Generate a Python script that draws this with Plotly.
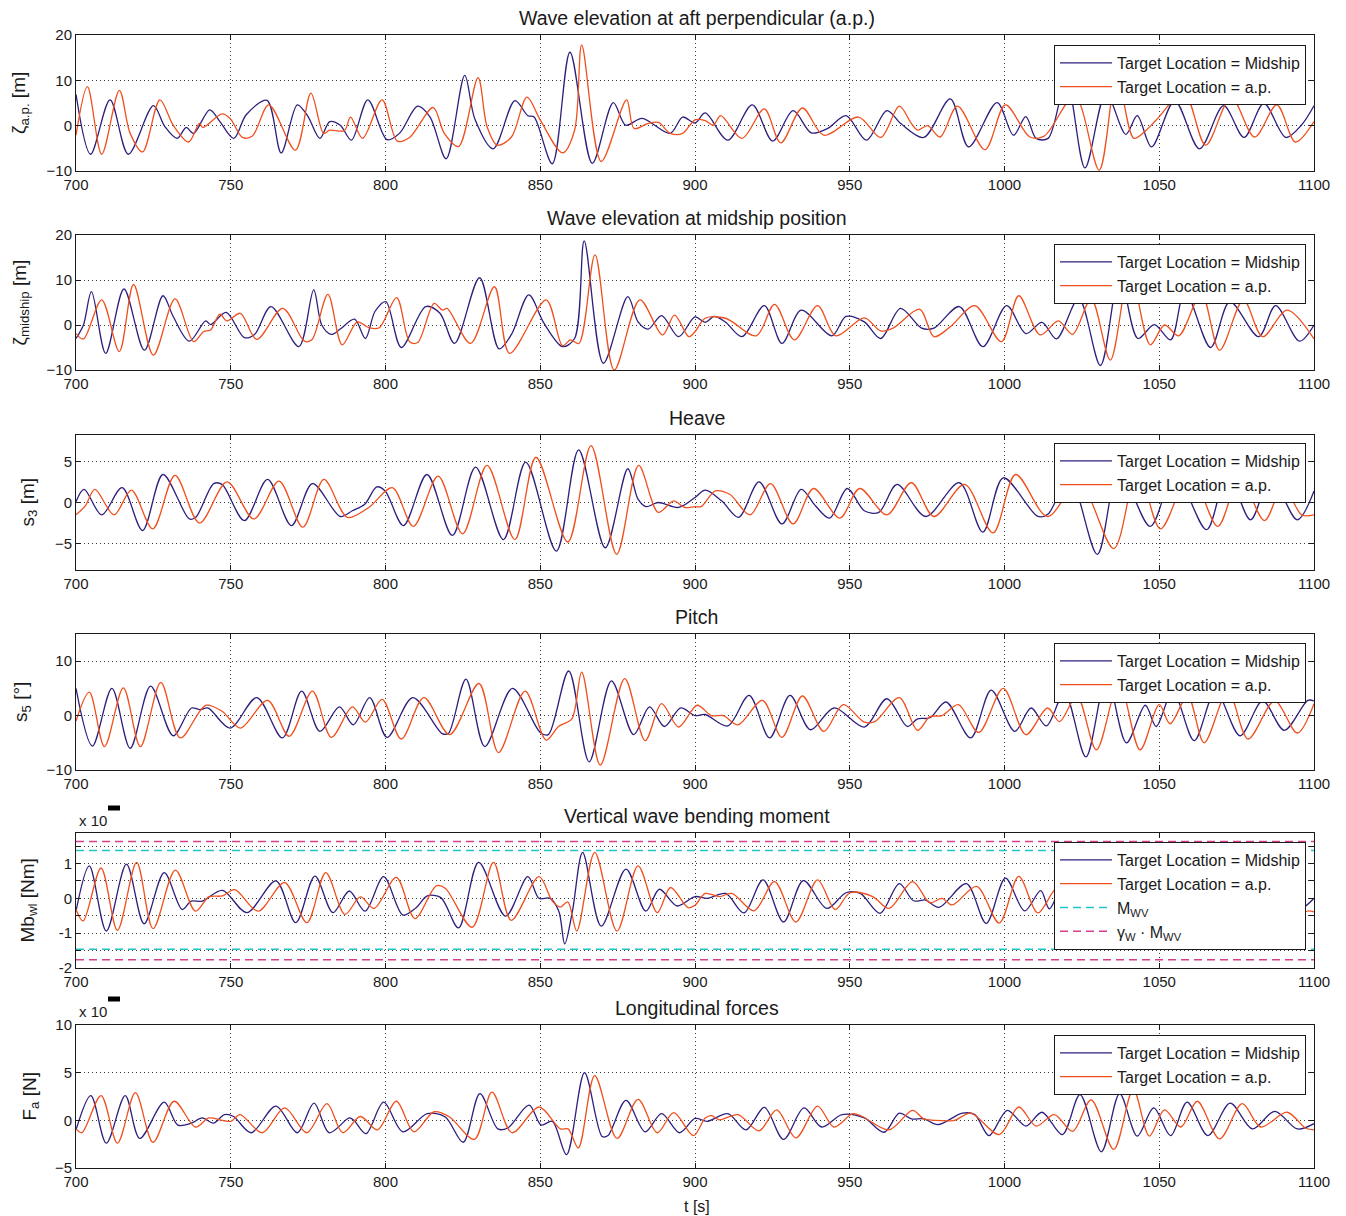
import plotly.graph_objects as go

# ---------------- DATA ((time [s], value) pairs at turning points) ----------------
T_RANGE = [700, 1100]
X_TICKS = [700, 750, 800, 850, 900, 950, 1000, 1050, 1100]

ZAP_MIDSHIP = [(700, 6.9), (704.7, -6.3), (711, 5.7), (716.9, -6.3), (725, 4.4), (728.7, -0.2), (732.7, -2.8), (735.6, -0.4), (738, -1.7), (743.2, 3.5), (746.5, 0.9), (751, -2.8), (755, 2.4), (761.7, 5.6), (766.3, -6.0), (771.5, 4.6), (774.8, 2.2), (778.8, -2.8), (782, 0.9), (785.4, 0.1), (789, -3.2), (794.3, 5.7), (800.5, -3.1), (804.5, -1.7), (810.4, 4.3), (814.4, 1.9), (819.6, -7.3), (825.6, 11.1), (828.9, 1.4), (834.8, -5.1), (841.8, 5.5), (846, 2.2), (848, 1.9), (853.9, -8.4), (859.6, 16.2), (866.8, -8.3), (873.6, 5.1), (877.6, 0.1), (882.9, 1.6), (892, -1.7), (896, 1.9), (900, 0.6), (903.3, 2.8), (910.6, -3.2), (918.5, 4.6), (925.1, -3.4), (931.7, 3.3), (937.6, -1.6), (942.9, -0.6), (948.8, 2.2), (955.4, -3.2), (962, 3.3), (966.6, 0.4), (973.9, -2.6), (982.5, 5.9), (988.4, -4.7), (997.6, 5.1), (1002.9, -2.1), (1006.9, 2.0), (1010.2, -2.8), (1014.1, -2.8), (1020, 10.0), (1026, -9.3), (1032.8, 7.2), (1039.2, -1.9), (1042.9, 2.2), (1047.5, -4.7), (1055, 5.5), (1063, -5.1), (1070.8, 4.4), (1077.4, -2.6), (1083.8, 4.9), (1090.9, -2.6), (1095.9, 0.1), (1100, 4.4)]
ZAP_AP = [(700, -2.1), (703.7, 8.6), (708.3, -6.3), (714, 7.8), (717.5, -1.7), (721.5, -5.8), (727.1, 5.7), (731.4, 0.1), (736.4, -3.6), (739.9, 0.5), (741, -0.4), (747.2, 2.6), (749.8, 1.6), (753.8, -2.6), (757, -2.3), (762.3, 4.6), (770.9, -5.4), (775.9, 7.2), (780, -1.7), (782, -1.0), (786.7, -1.1), (788.7, 1.9), (792.6, -2.8), (798.9, 5.7), (803.8, -3.4), (807.8, -2.6), (815.4, 4.0), (819, -1.7), (823.6, -4.6), (829.9, 10.6), (832.8, -0.2), (836.1, -4.3), (840.7, -2.5), (845.7, 6.3), (849.9, 1.4), (857.2, -6.0), (861.1, -1.0), (863.4, 17.8), (869.7, -7.9), (877.9, 5.7), (880.3, -0.6), (884.9, 0.5), (888.2, 0.7), (892, -1.7), (896, -1.7), (900, 1.3), (903.3, 1.1), (905.9, 0.1), (908.3, 2.2), (915.2, -2.8), (922.4, 3.7), (927.7, -3.8), (934.7, 3.9), (941.6, -2.1), (952.8, 1.9), (960, -2.6), (966, 4.3), (969.9, 0.5), (971.9, -1.0), (975.2, 0.0), (979.2, -2.5), (984.8, 4.3), (993.7, -5.3), (1000.3, 4.6), (1008.2, -2.5), (1012.8, -2.3), (1022.7, 6.5), (1030.6, -9.8), (1036.3, 11.0), (1041.8, -2.8), (1045.8, -1.0), (1049.1, 1.3), (1058, 7.2), (1065, -4.3), (1073.2, 6.3), (1080.8, -2.5), (1088, 4.6), (1094, -3.6), (1100, 0.9)]

ZMID_MIDSHIP = [(700, -3.0), (702.4, 0.0), (705, 7.4), (709.6, -6.3), (715.5, 8.0), (722.1, -5.6), (728.1, 6.5), (731.4, 1.9), (736.6, -3.6), (741.9, 0.9), (743.5, 0.1), (748.5, 2.8), (754.4, -2.8), (757.7, -2.1), (763, 4.1), (772, -4.8), (776.8, 7.8), (779.4, 0.0), (782.5, -2.1), (785.4, -0.9), (790, 1.3), (793.5, -3.0), (796.6, 3.0), (800.1, 5.2), (805.1, -5.0), (813, 4.1), (817.6, 2.6), (822.3, -4.1), (830.4, 10.5), (836.7, -5.3), (840.7, -2.1), (846.3, 6.7), (851.2, 0.4), (857.2, -4.8), (861.1, -3.0), (864.2, 18.7), (870.4, -8.5), (878.3, 6.3), (881.6, 0.7), (884.9, -0.9), (889.2, 2.1), (894.7, -2.6), (900, 1.8), (903.3, 0.6), (906.2, 1.9), (909.9, 0.6), (915.2, -2.6), (922.4, 4.3), (928.1, -4.1), (934.3, 3.3), (944.2, -2.4), (948.8, 1.9), (954.7, 0.7), (960, -3.0), (966.4, 3.7), (973.2, -0.7), (977.2, -0.7), (985.4, 4.1), (993, -4.8), (1000.7, 4.3), (1006.9, -1.9), (1012.1, 0.6), (1016.8, -3.1), (1024, 5.9), (1031, -9.0), (1037.2, 11.0), (1043.1, -3.0), (1048.4, 0.1), (1053.7, -3.3), (1058.3, 7.6), (1066.6, -5.0), (1072.8, 5.2), (1082.1, -2.6), (1087.6, 4.3), (1095.3, -3.6), (1100, 0.0)]
ZMID_AP = [(700, -1.9), (702.4, -3.1), (708.3, 5.6), (714, -5.9), (718.6, 9.0), (725, -6.7), (732, 5.8), (738, -3.7), (741.2, -1.5), (743.5, -1.1), (746.5, 2.4), (748.8, 0.9), (753.1, 2.6), (758.4, -3.2), (766.8, 3.7), (773.8, -3.6), (776.2, -3.3), (781.4, 6.8), (786, -4.4), (790.9, 0.7), (794.6, -0.6), (798, -0.6), (803.6, 6.1), (807.8, -3.7), (810.4, -3.9), (815.7, 4.8), (818.4, 3.3), (819.9, 3.7), (827.5, -4.1), (835.2, 8.5), (840.1, -6.3), (851.9, 5.6), (857.2, -4.6), (859.8, -3.3), (862.5, -4.1), (867.7, 15.6), (873.9, -10.0), (882.2, 5.6), (889.5, -2.2), (893.4, 2.2), (898, -2.6), (900, -1.5), (903.3, 1.5), (909.9, 1.5), (919.8, -2.4), (925.7, 4.6), (932.1, -3.3), (939.6, 4.3), (945.5, -2.4), (954.7, 1.6), (960, -1.3), (964, -0.7), (972.6, 3.5), (977.2, -2.6), (982.5, -0.4), (990.4, 4.3), (999, -3.7), (1004.6, 6.5), (1011.5, -2.2), (1017.4, 0.9), (1022, -2.1), (1028, 5.8), (1034.2, -7.8), (1040.5, 12.0), (1047.1, -4.4), (1051.7, 0.0), (1056.3, -2.4), (1063.6, 7.0), (1069.5, -5.6), (1077.2, 5.6), (1083.4, -2.6), (1091.3, 3.3), (1100, -3.1)]

HEAVE_MIDSHIP = [(700, 0.1), (702.6, 1.6), (708.3, -1.5), (714.9, 1.8), (721.5, -3.4), (728.1, 3.4), (736.6, -2.0), (738.7, -1.8), (744.5, 2.3), (747.2, 2.2), (754.4, -2.2), (761.9, 2.8), (769.6, -2.8), (776.4, 2.3), (785.4, -1.7), (789.3, -1.0), (793.3, -0.2), (797.2, 1.9), (799.9, 1.4), (805.8, -2.8), (813.4, 3.4), (821.6, -4.0), (829.1, 4.3), (838.1, -4.5), (845.3, 4.9), (855.2, -5.9), (862.4, 6.4), (871, -5.5), (878.3, 4.1), (881.6, 0.4), (884.2, -0.5), (888.1, 0.0), (894.7, -0.6), (900, 0.6), (903.3, 1.5), (908.6, 0.2), (914.1, -1.8), (920.7, 2.5), (928.1, -2.6), (934.3, 1.6), (938.9, -0.4), (943.5, -1.9), (949.2, 1.7), (954.7, -1.0), (959.4, -1.2), (965.3, 2.2), (974.5, -1.7), (985.4, 2.4), (993, -3.6), (999.6, 3.0), (1010.8, -1.7), (1014.1, -1.4), (1021, 3.0), (1030, -6.3), (1037, 4.0), (1047.1, -2.9), (1055, 3.5), (1065.3, -3.3), (1072, 3.5), (1079.5, -2.1), (1086, 3.0), (1094.6, -2.1), (1100, 1.4)]
HEAVE_AP = [(700, -1.5), (703, -0.4), (706.1, 1.6), (712.3, -1.5), (717.9, 1.5), (724.8, -3.2), (732, 3.3), (739.9, -2.5), (748.8, 2.5), (757.5, -2.0), (765.6, 2.6), (773.3, -3.0), (780.1, 2.8), (787.7, -1.8), (794.6, -0.6), (802.2, 1.8), (809, -2.9), (817, 3.2), (824.9, -3.8), (832.8, 4.5), (841.8, -4.5), (848.6, 5.5), (858.9, -4.8), (866.4, 6.9), (874.7, -6.3), (881.8, 4.5), (888.1, -1.2), (893.1, 0.2), (896.6, -0.6), (900, -0.5), (902, -0.5), (906.6, 1.4), (911.2, 1.0), (917.8, -1.5), (924.4, 2.3), (931.7, -2.6), (938.3, 1.7), (946.8, -1.9), (953.2, 1.7), (962, -1.5), (969.9, 2.4), (977.2, -1.7), (987.1, 2.2), (996.3, -3.7), (1003.6, 3.4), (1013.9, -1.7), (1024, 2.5), (1035.3, -5.6), (1043, 4.0), (1050.4, -3.2), (1060, 3.5), (1068.9, -2.9), (1076, 3.0), (1084, -2.2), (1090, 2.0), (1096, -1.5), (1100, -1.5)]

PITCH_MIDSHIP = [(700, 5.0), (705.3, -5.6), (711.6, 5.0), (717.5, -6.0), (724.1, 5.4), (731.4, -3.7), (737.3, 1.4), (740, 1.1), (742.6, 1.4), (749.8, -2.3), (758.4, 3.3), (766.7, -4.1), (772.9, 4.5), (778.8, -2.9), (785.1, 1.6), (789.6, -1.7), (794.9, 3.3), (800.5, -4.0), (808.8, 3.3), (818.3, -3.3), (820.3, -3.3), (826, 6.7), (832.1, -5.7), (841, 5.0), (850, -3.1), (852.6, -3.5), (859.2, 8.2), (865.8, -8.5), (873, 6.4), (880.2, -3.5), (885.3, 1.6), (890.1, -2.0), (895.4, 1.4), (900, 0.0), (903.3, 0.2), (910.6, -1.9), (917.5, 3.7), (924.1, -4.1), (930.7, 3.7), (937.3, -2.6), (944.9, 1.4), (954.7, -2.1), (962, 3.1), (968.6, -2.0), (971.9, -0.6), (975.9, -0.4), (981.1, 2.5), (989.1, -4.1), (995.7, 4.7), (1003.3, -2.9), (1008.6, 1.4), (1013.5, -1.9), (1019.4, 4.2), (1026.3, -7.6), (1033, 7.0), (1039.4, -5.0), (1045.5, 1.9), (1049, -2.0), (1054.4, 4.5), (1061.3, -4.6), (1068.2, 4.5), (1076.1, -3.7), (1083.4, 2.7), (1090.4, -2.7), (1098, 2.8), (1100, 2.7)]
PITCH_AP = [(700, -1.0), (704.3, 4.3), (709.2, -5.7), (715.3, 5.1), (720.8, -5.7), (727.4, 6.1), (733.7, -4.1), (741.9, 1.9), (747.2, 0.8), (753.1, -2.3), (761.9, 2.8), (768.9, -3.8), (776.4, 4.5), (782.5, -4.0), (789.3, 1.6), (793.5, -1.2), (798.9, 3.0), (805.1, -4.3), (812.4, 3.3), (820.7, -3.5), (830.2, 5.9), (836.5, -6.8), (845.1, 4.5), (851.9, -4.5), (855.9, -2.0), (860.2, -0.6), (863.4, 8.0), (869.4, -9.1), (877.3, 6.8), (883.9, -4.6), (889.2, 2.2), (894.7, -2.1), (900.7, 1.9), (905.3, 0.0), (909.2, 0.0), (913.9, -1.7), (921.8, 2.8), (928.1, -4.0), (934.7, 3.6), (941.6, -2.9), (947.9, 2.0), (954.7, -1.2), (958.1, -1.1), (966, 3.3), (971.9, -2.7), (975.9, -0.2), (979.8, 0.0), (985.1, 2.0), (991.7, -3.1), (999.6, 5.0), (1006.9, -3.5), (1013.9, 1.4), (1017.8, -1.1), (1023.4, 3.6), (1029.7, -6.3), (1037, 6.0), (1043.8, -6.3), (1050, 2.0), (1053.5, -1.5), (1059.2, 3.6), (1064.5, -5.0), (1072.2, 4.5), (1078.7, -4.3), (1087.3, 2.7), (1094.6, -3.2), (1100, 2.2)]

MB_MIDSHIP = [(700, -0.37), (704.3, 0.93), (709.8, -0.94), (716.3, 0.98), (722, -0.73), (728.5, 0.74), (734.3, -0.32), (737.2, -0.08), (740.8, -0.08), (747.3, 0.23), (755.2, -0.41), (764.6, 0.5), (771, -0.7), (777.2, 0.64), (783, -0.41), (788.3, 0.21), (793.4, -0.37), (799.4, 0.62), (805.6, -0.48), (809.9, -0.27), (813.5, 0.07), (817.9, 0.02), (823.6, -0.85), (830.1, 1.03), (838.8, -0.51), (846, 0.62), (849.6, 0.0), (853.2, 0.0), (856, -0.37), (857.9, -1.31), (860.4, -0.37), (863.7, 1.32), (869.7, -0.8), (877.7, 0.84), (884.1, -0.37), (888.5, 0.26), (894.2, -0.22), (900, 0.05), (904, 0.0), (909.9, 0.14), (915.8, -0.42), (922, 0.53), (928.6, -0.68), (935, 0.51), (942.6, -0.29), (948.8, 0.16), (953.4, 0.14), (959.8, -0.43), (966, 0.42), (970.6, -0.07), (974.5, -0.05), (978.8, -0.26), (987.7, 0.42), (994.1, -0.72), (1000.3, 0.58), (1006.5, -0.36), (1011.7, 0.22), (1014.5, -0.3), (1020, 0.6), (1026, -0.9), (1033, 0.9), (1039, -0.6), (1043, 0.2), (1048, -0.3), (1054, 0.6), (1061, -0.6), (1068, 0.6), (1076, -0.5), (1083, 0.4), (1090, -0.4), (1096, -0.3), (1100, 0.0)]
MB_AP = [(700, -0.32), (702.3, -0.65), (708.1, 0.87), (713.4, -0.92), (719.6, 1.03), (724.9, -0.87), (732.1, 0.81), (738.6, -0.37), (742.9, 0.04), (747.3, 0.07), (751.3, 0.25), (758.8, -0.37), (767.4, 0.45), (774.6, -0.7), (780.7, 0.74), (786.9, -0.46), (791.9, 0.04), (796.3, -0.29), (803.5, 0.6), (809.5, -0.58), (816.4, 0.36), (819.3, 0.29), (828, -0.83), (834.9, 1.03), (840.6, -0.63), (849.6, 0.62), (853.9, -0.08), (856.5, -0.25), (858.9, -0.1), (861.8, -0.94), (867.6, 1.32), (874.8, -0.94), (881.6, 0.93), (887.8, -0.41), (892.1, 0.31), (897.8, -0.27), (900, -0.2), (903.3, 0.14), (907.9, 0.05), (911.9, 0.14), (919.1, -0.36), (925.7, 0.48), (932.6, -0.68), (939.6, 0.53), (945.3, -0.32), (950.1, 0.16), (957.4, 0.05), (962.7, -0.29), (970.3, 0.48), (975.9, -0.13), (979.8, 0.0), (983.1, -0.19), (991, 0.34), (998.3, -0.71), (1004.6, 0.63), (1010.8, -0.42), (1017, 0.3), (1021, -0.2), (1025, 0.5), (1031, -0.9), (1037, 1.0), (1043, -0.8), (1048, 0.2), (1051, -0.3), (1058, 0.6), (1065, -0.6), (1072, 0.6), (1079, -0.5), (1088, 0.4), (1094, -0.45), (1098.3, -0.36), (1100, -0.39)]
MWV_LIMITS = [1.37, -1.46]          # M_WV (hogging, sagging)
GAMMA_MWV_LIMITS = [1.63, -1.76]    # gamma_W * M_WV

FA_MIDSHIP = [(700, -1.0), (704.8, 2.6), (709.8, -2.4), (715.9, 2.6), (720.6, -1.9), (728.5, 1.9), (732.9, -0.5), (737.2, -0.3), (740.8, 0.25), (744.4, -0.3), (748, 0.6), (750.9, 0.4), (756.6, -1.3), (764.6, 1.5), (771.5, -1.3), (776.9, 1.8), (781.8, -1.3), (788.3, 0.25), (789.8, 0.0), (793.7, -1.4), (799.4, 1.9), (805.6, -1.2), (813.5, 0.7), (819.3, 0.35), (825.1, -2.3), (830.5, 2.8), (836.3, -0.9), (839.5, -0.8), (846.4, 1.6), (850.3, -0.5), (853.9, -0.1), (858.5, -3.6), (864.3, 5.0), (870, -1.7), (871.9, -1.6), (877.7, 2.1), (883.9, -1.2), (889.2, 0.7), (895, -1.3), (900, 0.2), (904, -0.1), (910.6, 0.7), (916.5, -1.0), (922.4, 1.35), (928.6, -2.0), (935.2, 1.3), (940.9, -0.7), (947.5, 0.6), (954.7, 0.25), (961.1, -1.25), (966, 0.75), (969.9, 0.15), (973.9, 0.15), (978.5, -0.45), (986.4, 0.75), (990.4, 0.6), (995, -1.6), (1000.9, 1.05), (1006.9, -0.6), (1012.1, 0.85), (1018.7, -1.5), (1024.4, 2.7), (1031.3, -3.3), (1037.2, 2.8), (1042.9, -1.65), (1048.2, 1.3), (1053.7, -1.6), (1059, 1.9), (1065.7, -1.6), (1072.9, 1.8), (1080.1, -0.9), (1087.3, 0.95), (1094.6, -0.9), (1100, -0.35)]
FA_AP = [(700, -0.9), (701.9, -1.3), (708.1, 2.6), (713.4, -2.4), (719.2, 2.9), (724.9, -2.3), (731.7, 2.0), (738.6, -0.7), (742.9, 0.25), (747.3, 0.0), (750.1, -0.1), (753, 0.6), (760.2, -1.3), (767.4, 1.3), (774.6, -1.3), (781.1, 1.75), (786.2, -1.3), (791.9, 0.4), (797.4, -1.0), (803.5, 2.0), (809.2, -1.2), (815.7, 0.9), (820.7, 0.35), (828.7, -2.0), (834.4, 2.95), (840.9, -1.3), (849.6, 1.4), (856.5, -0.9), (859, -0.9), (862.3, -2.9), (867.6, 4.7), (874.8, -1.9), (881.6, 2.2), (887.8, -1.3), (893.1, 0.8), (899.5, -1.6), (903.3, 0.25), (905.3, 0.5), (907.9, 0.05), (913.9, 0.6), (920.7, -1.1), (926.4, 1.1), (932.6, -1.85), (939.6, 1.5), (944.9, -0.7), (951, 0.7), (954.1, 0.4), (962.7, -1.0), (970.3, 1.05), (973.9, 0.15), (977.2, 0.0), (983.8, 0.0), (989.1, 0.75), (998.3, -1.5), (1004.6, 1.4), (1010.2, -0.6), (1016.1, 0.6), (1022, -1.15), (1028, 2.15), (1035.3, -3.05), (1041.6, 3.25), (1046.8, -1.65), (1051.7, 1.1), (1057, -0.7), (1062.3, 2.0), (1069.5, -1.95), (1076.8, 1.75), (1082.8, -0.7), (1091.3, 0.85), (1097.2, -0.8), (1100, -1.0)]

NAME_MID = "Target Location = Midship"
NAME_AP = "Target Location = a.p."

# ---------------- STYLE / LAYOUT (positions given in screen pixels of the 1346x1216 view) ----------------
PAGE_OFFSET = 8                     # default body margin of the html page
W, H = 1346 - PAGE_OFFSET, 1216 - PAGE_OFFSET
L_PX, R_PX, T_PX, B_PX = 76, 1314, 35, 1168
PW, PH = R_PX - L_PX, B_PX - T_PX
FONT = "Liberation Sans, Arial, sans-serif"
INK = "#1a1a1a"
NAVY = "#2e1f7c"
ORANGE = "#f0501e"
CYAN = "#22c4c8"
MAGENTA = "#d63f8c"
GRID = "#3a3a3a"


def fx(px):
    return (px - L_PX) / PW


def fy(py):
    return (B_PX - py) / PH


PANELS = [
    dict(title="Wave elevation at aft perpendicular (a.p.)", ylabel="ζ<sub>a.p.</sub> [m]", ylab_x=20,
         mid=ZAP_MIDSHIP, ap=ZAP_AP, yrange=[-10, 20], tickvals=[-10, 0, 10, 20], ticktext=None,
         top=35, bottom=171, leg_top=45),
    dict(title="Wave elevation at midship position", ylabel="ζ<sub>midship</sub> [m]", ylab_x=20,
         mid=ZMID_MIDSHIP, ap=ZMID_AP, yrange=[-10, 20], tickvals=[-10, 0, 10, 20], ticktext=None,
         top=235, bottom=370, leg_top=244),
    dict(title="Heave", ylabel="s<sub>3</sub> [m]", ylab_x=28,
         mid=HEAVE_MIDSHIP, ap=HEAVE_AP, yrange=[-8.2, 8.2], tickvals=[-5, 0, 5], ticktext=None,
         top=435, bottom=570, leg_top=443),
    dict(title="Pitch", ylabel="s<sub>5</sub> [°]", ylab_x=22,
         mid=PITCH_MIDSHIP, ap=PITCH_AP, yrange=[-10, 15], tickvals=[-10, 0, 10], ticktext=None,
         top=634, bottom=770, leg_top=643),
    dict(title="Vertical wave bending moment", ylabel="Mb<sub>wl</sub> [Nm]", ylab_x=28,
         mid=MB_MIDSHIP, ap=MB_AP, yrange=[-2, 1.875],
         tickvals=[-2, -1.5, -1, -0.5, 0, 0.5, 1, 1.5], ticktext=["-2", "", "-1", "", "0", "", "1", ""],
         top=833, bottom=968, leg_top=842),
    dict(title="Longitudinal forces", ylabel="F<sub>a</sub> [N]", ylab_x=30,
         mid=FA_MIDSHIP, ap=FA_AP, yrange=[-5, 10], tickvals=[-5, 0, 5, 10], ticktext=None,
         top=1025, bottom=1168, leg_top=1035),
]

fig = go.Figure()
annotations = []
shapes = []
layout = dict(
    width=W, height=H,
    margin=dict(l=L_PX - PAGE_OFFSET, r=W - (R_PX - PAGE_OFFSET), t=T_PX - PAGE_OFFSET,
                b=H - (B_PX - PAGE_OFFSET), pad=0),
    paper_bgcolor="white", plot_bgcolor="white",
    font=dict(family=FONT, size=15, color=INK),
    showlegend=True,
)

for i, p in enumerate(PANELS):
    n = "" if i == 0 else str(i + 1)
    xa, ya, leg = "x" + n, "y" + n, "legend" + n
    for series, name, color in ((p["mid"], NAME_MID, NAVY), (p["ap"], NAME_AP, ORANGE)):
        t = [s[0] for s in series]
        v = [s[1] for s in series]
        fig.add_trace(go.Scatter(x=t, y=v, mode="lines", name=name,
                                 line=dict(color=color, width=1.3, shape="spline", smoothing=0.9),
                                 xaxis=xa, yaxis=ya, legend=leg, hoverinfo="skip"))
    if i == 4:
        for levels, name, color in ((MWV_LIMITS, "M<sub>WV</sub>", CYAN),
                                    (GAMMA_MWV_LIMITS, "γ<sub>W</sub> · M<sub>WV</sub>", MAGENTA)):
            xs, ys = [], []
            for lv in levels:
                xs += [T_RANGE[0], T_RANGE[1], None]
                ys += [lv, lv, None]
            fig.add_trace(go.Scatter(x=xs, y=ys, mode="lines", name=name,
                                     line=dict(color=color, width=1.5, dash="8px,5px"),
                                     xaxis=xa, yaxis=ya, legend=leg, hoverinfo="skip"))

    axis_common = dict(showline=True, linecolor=INK, linewidth=1, mirror="ticks",
                       ticks="inside", ticklen=5, tickcolor=INK,
                       showgrid=True, gridcolor=GRID, griddash="1px,3px", gridwidth=1,
                       zeroline=False, automargin=False,
                       tickfont=dict(size=15, family=FONT, color=INK))
    layout["xaxis" + n] = dict(axis_common, domain=[0, 1], anchor=ya, range=T_RANGE,
                               tickvals=X_TICKS, ticktext=[str(v) for v in X_TICKS])
    yax = dict(axis_common, domain=[fy(p["bottom"]), fy(p["top"])], anchor=xa,
               range=p["yrange"], tickvals=p["tickvals"])
    if p["ticktext"] is not None:
        yax["ticktext"] = p["ticktext"]
    layout["yaxis" + n] = yax
    layout[leg] = dict(x=fx(1306), xanchor="right", y=fy(p["leg_top"]), yanchor="top",
                       bgcolor="white", bordercolor=INK, borderwidth=1,
                       font=dict(size=16, family=FONT, color=INK),
                       itemwidth=52, tracegroupgap=0, itemclick=False)
    annotations.append(dict(text=p["title"], x=fx(697), y=fy(p["top"] - 17), xref="paper", yref="paper",
                            showarrow=False, xanchor="center", yanchor="middle",
                            font=dict(size=19.5, family=FONT, color=INK)))
    annotations.append(dict(text=p["ylabel"], x=fx(p["ylab_x"]), y=fy((p["top"] + p["bottom"]) / 2),
                            xref="paper", yref="paper", showarrow=False, textangle=-90,
                            xanchor="center", yanchor="middle",
                            font=dict(size=19, family=FONT, color=INK)))

# exponent markers ("x 10" with the blacked-out exponent)
for text_y, bar_y in ((820, 808), (1011, 999)):
    annotations.append(dict(text="x 10", x=fx(77), y=fy(text_y), xref="paper", yref="paper",
                            showarrow=False, xanchor="left", yanchor="middle",
                            font=dict(size=15, family=FONT, color=INK)))
    shapes.append(dict(type="rect", xref="paper", yref="paper",
                       x0=fx(108), x1=fx(120), y0=fy(bar_y + 2.5), y1=fy(bar_y - 2.5),
                       fillcolor="black", line=dict(width=0)))

annotations.append(dict(text="t [s]", x=fx(697), y=fy(1206), xref="paper", yref="paper",
                        showarrow=False, xanchor="center", yanchor="middle",
                        font=dict(size=16, family=FONT, color=INK)))
layout["annotations"] = annotations
layout["shapes"] = shapes
fig.update_layout(**layout)

fig.write_html("out.html")
